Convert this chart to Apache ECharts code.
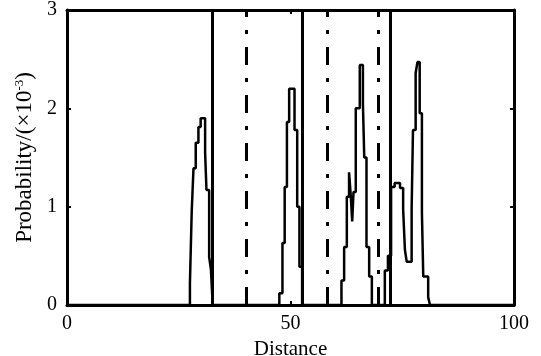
<!DOCTYPE html>
<html>
<head>
<meta charset="utf-8">
<script src="https://cdn.jsdelivr.net/npm/echarts@6/dist/echarts.min.js"></script>
<style>
  html, body { margin: 0; padding: 0; background: #fff; }
  #chart { width: 541px; height: 356px; }
</style>
</head>
<body>
<div id="chart"></div>
<script>
// step points: [distance where level starts, probability (x10^-3)]
var peak1 = [[27.5, 0.22], [27.9, 0.95], [28.3, 1.39], [28.8, 1.65], [29.4, 1.81], [29.9, 1.9],
  [30.9, 1.55], [31.2, 1.17], [31.8, 0.49], [32.2, 0.36], [32.6, 0]];
var peak2 = [[47.5, 0.12], [48.2, 0.63], [48.7, 1.2], [49.2, 1.86], [49.7, 2.2], [50.9, 1.78],
  [51.5, 1.0], [52.0, 0.39], [52.6, 0]];
var peak3 = [[61.4, 0.25], [62.0, 0.59], [62.6, 1.1], [63.1, 1.35], [63.5, 1.1], [63.8, 0.85],
  [64.1, 1.15], [64.6, 2.0], [65.5, 2.44], [66.2, 2.05], [66.5, 1.5], [67.0, 0.59], [67.6, 0.29], [68.2, 0]];
var peak4 = [[71.1, 0.35], [71.8, 0.5], [72.5, 1.2], [73.3, 1.24], [74.5, 1.19], [75.2, 0.97],
  [75.6, 0.56], [76.0, 0.44], [77.1, 0.98], [77.4, 1.78], [78.0, 2.36], [78.4, 2.47], [78.9, 1.95],
  [79.4, 0.94], [79.7, 0.29], [80.8, 0.08], [81.2, 0]];

var solidLines = [32.6, 52.6, 72.4];
var dashDotLines = [40.0, 58.3, 69.6];

var xTicks = [0, 50, 100];
var yTicks = [0, 1, 2, 3];

var curve = [[0, 0]].concat(peak1, peak2, peak3, peak4, [[100, 0]]);

var font = "Liberation Serif";
var myChart = echarts.init(document.getElementById("chart"));

function vline(vals, type) {
  return {
    type: "line",
    data: [],
    silent: true,
    markLine: {
      silent: true,
      symbol: "none",
      label: { show: false },
      lineStyle: { color: "#000", width: 3, type: type, opacity: 1 },
      emphasis: { disabled: true },
      data: vals.map(function (v) { return { xAxis: v }; })
    }
  };
}

var option = {
  animation: false,
  grid: { left: 67, right: 27, top: 10, bottom: 51, outerBoundsMode: "none", containLabel: false },
  xAxis: [{
    type: "value",
    min: xTicks[0],
    max: xTicks[xTicks.length - 1],
    interval: 50,
    name: "Distance",
    nameLocation: "middle",
    nameGap: 32,
    nameTextStyle: { fontFamily: font, fontSize: 21, color: "#000" },
    axisLine: { onZero: false, lineStyle: { color: "#000", width: 3 } },
    axisTick: { inside: true, length: 4, lineStyle: { color: "#000", width: 2 } },
    axisLabel: { fontFamily: font, fontSize: 20, color: "#000", margin: 9 },
    splitLine: { show: false }
  }, {
    type: "value",
    position: "top",
    min: xTicks[0],
    max: xTicks[xTicks.length - 1],
    interval: 50,
    axisLine: { onZero: false, lineStyle: { color: "#000", width: 3 } },
    axisTick: { inside: true, length: 4, lineStyle: { color: "#000", width: 2 } },
    axisLabel: { show: false },
    splitLine: { show: false }
  }],
  yAxis: [{
    type: "value",
    min: yTicks[0],
    max: yTicks[yTicks.length - 1],
    interval: 1,
    name: "Probability/(\u00d710{sup|-3})",
    nameLocation: "middle",
    nameGap: 30,
    nameTextStyle: {
      fontFamily: font, fontSize: 23, color: "#000",
      rich: { sup: { fontFamily: font, fontSize: 13, color: "#000", verticalAlign: "top", padding: [0, 0, 10, 0] } }
    },
    axisLine: { onZero: false, lineStyle: { color: "#000", width: 3 } },
    axisTick: { inside: true, length: 4, lineStyle: { color: "#000", width: 2 } },
    axisLabel: { fontFamily: font, fontSize: 20, color: "#000", margin: 10 },
    splitLine: { show: false }
  }, {
    type: "value",
    position: "right",
    min: yTicks[0],
    max: yTicks[yTicks.length - 1],
    interval: 1,
    axisLine: { onZero: false, lineStyle: { color: "#000", width: 3 } },
    axisTick: { inside: true, length: 4, lineStyle: { color: "#000", width: 2 } },
    axisLabel: { show: false },
    splitLine: { show: false }
  }],
  series: [{
    type: "line",
    step: "end",
    data: curve,
    symbol: "none",
    lineStyle: { color: "#000", width: 2.5 }
  },
  vline(solidLines, "solid"),
  vline(dashDotLines, [18, 13, 4, 13])
  ]
};
myChart.setOption(option, true);
</script>
</body>
</html>
